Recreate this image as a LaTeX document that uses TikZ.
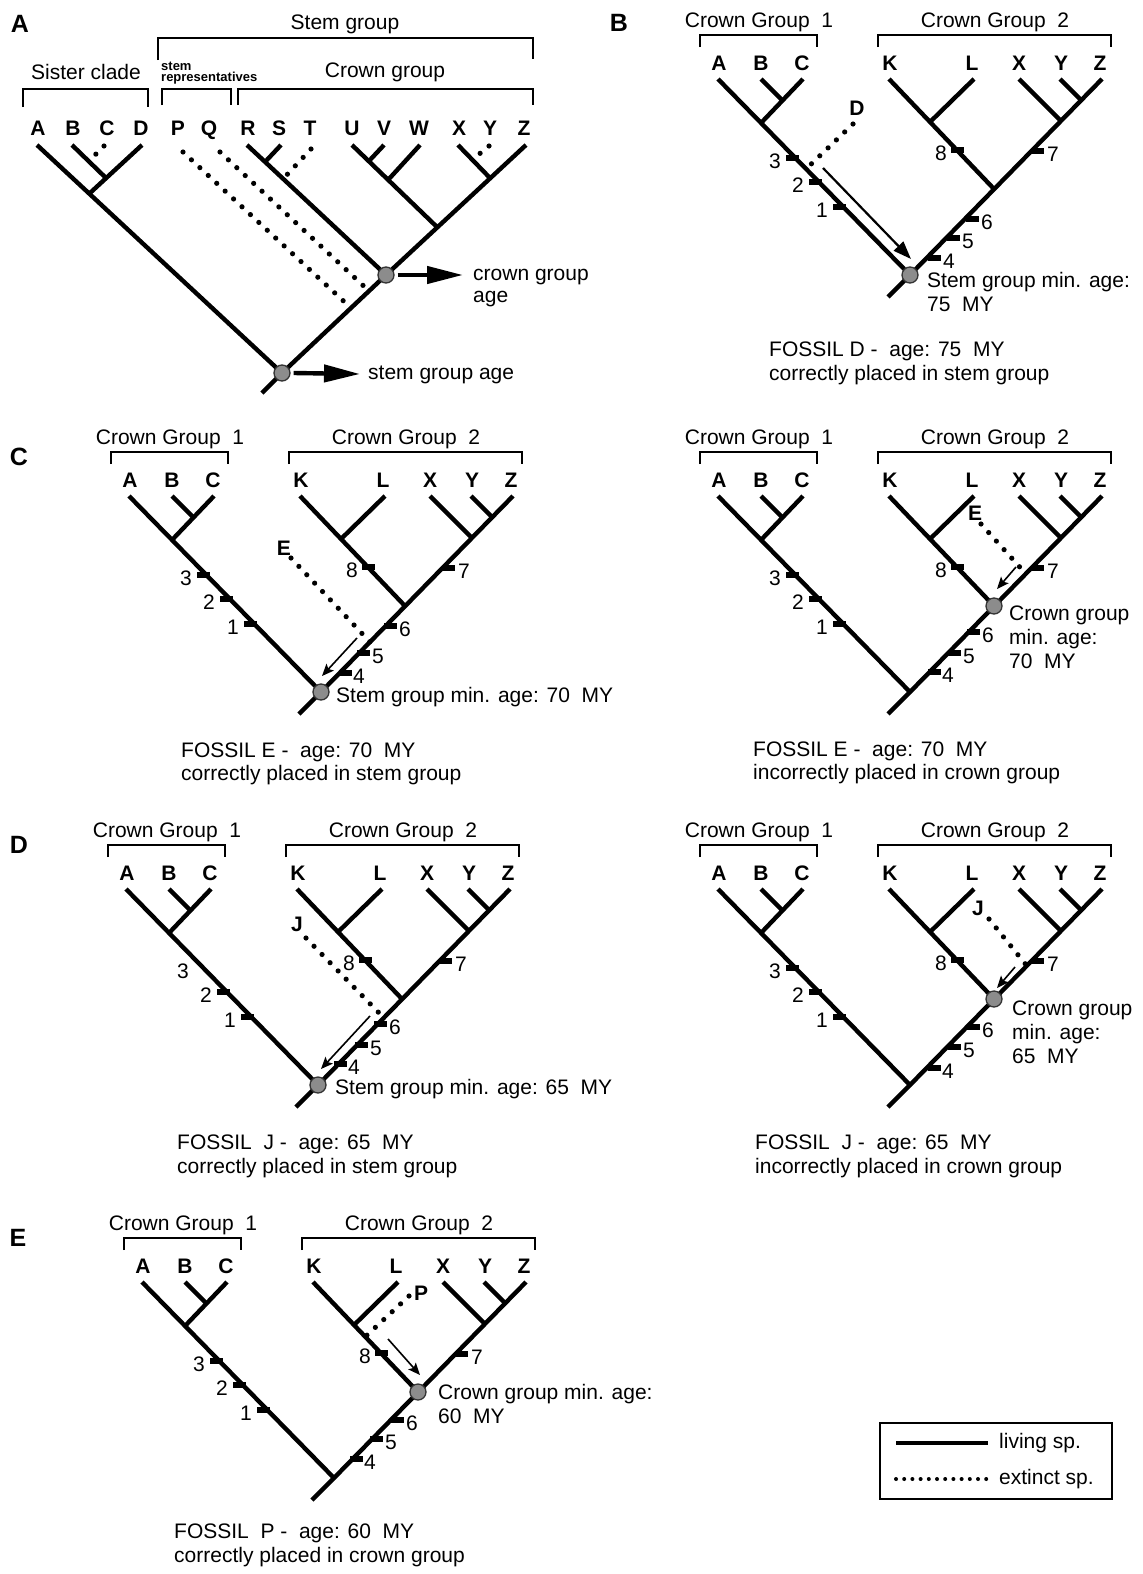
\documentclass[tikz,border=0pt]{standalone}
\usepackage{fontspec}
\setmainfont{Liberation Sans}
\usetikzlibrary{arrows.meta}

\definecolor{agegrey}{RGB}{140,140,140}

\tikzset{
  branch/.style={line width=4.4pt, line cap=butt, line join=round},
  extinct/.style={line width=5.2pt, line cap=round, dash pattern=on 0pt off 11.5pt},
  bracket/.style={line width=1.7pt},
  agedot/.style={circle, fill=agegrey, draw=black!80, line width=1.3pt, minimum size=16pt, inner sep=0pt},
  tickmark/.style={fill=black, minimum width=13pt, minimum height=6pt, inner sep=0pt},
  txt/.style={font=\fontsize{21}{24}\selectfont, inner sep=0pt},
  ltxt/.style={txt, anchor=west, text height=15pt, text depth=4.5pt},
  tiplabel/.style={font=\fontsize{21}{24}\selectfont\bfseries, inner sep=0pt, text height=15pt, text depth=0pt},
  numlabel/.style={font=\fontsize{21}{24}\selectfont, inner sep=0pt, text height=15pt, text depth=0pt},
  panel/.style={font=\fontsize{25}{28}\selectfont\bfseries, inner sep=0pt},
  replbl/.style={font=\fontsize{13}{14}\selectfont\bfseries, inner sep=0pt, anchor=west},
  bigarrow/.style={line width=4.4pt, -{Triangle[length=36pt,width=17pt]}},
  midarrow/.style={line width=2.2pt, -{Triangle[length=18pt,width=13pt]}},
  thinarrow/.style={line width=1.6pt, -{Stealth[length=12pt,width=10pt,inset=2.5pt]}},
}

% common two-crown-group tree, drawn around its root at the origin
\newcommand{\cgtree}[1]{%
  \coordinate (#1root) at (0,0);
  \coordinate (#1base) at (-22,22);
  \coordinate (#1At) at (-192,-196);
  \coordinate (#1ABC) at (-149,-152);
  \coordinate (#1Ct) at (-107,-196);
  \coordinate (#1Bt) at (-149,-196);
  \coordinate (#1BC) at (-127,-174);
  \coordinate (#1Zt) at (192,-196);
  \coordinate (#1crown) at (84,-86);
  \coordinate (#1Kt) at (-21,-196);
  \coordinate (#1KL) at (20,-153);
  \coordinate (#1Lt) at (64,-196);
  \coordinate (#1XZ) at (151,-154);
  \coordinate (#1Xt) at (109,-196);
  \coordinate (#1YZ) at (171,-175);
  \coordinate (#1Yt) at (150,-196);
  \draw[branch] (#1base) -- (#1root) -- (#1At);
  \draw[branch] (#1root) -- (#1Zt);
  \draw[branch] (#1ABC) -- (#1Ct);
  \draw[branch] (#1Bt) -- (#1BC);
  \draw[branch] (#1crown) -- (#1Kt);
  \draw[branch] (#1KL) -- (#1Lt);
  \draw[branch] (#1XZ) -- (#1Xt);
  \draw[branch] (#1YZ) -- (#1Yt);
  \foreach \tl/\tx in {A/-191,B/-149,C/-108,K/-20,L/62,X/109,Y/151,Z/190}
    \node[tiplabel] (#1l\tl) at (\tx,-212) {\tl};
  \draw[bracket] (-210,-228) -- (-210,-240) -- (-93,-240) -- (-93,-228);
  \draw[bracket] (-32,-228) -- (-32,-240) -- (201,-240) -- (201,-228);
  \node[txt] (#1cg1) at (-151,-253) {Crown Group~~1};
  \node[txt] (#1cg2) at (85,-253) {Crown Group~~2};
}

% character tick with its number
\newcommand{\tk}[5]{%
  \node[tickmark] (#1) at (#2,#3) {};
  \node[numlabel] (#1n) at (#2+#4,#3+3) {#5};
}

\begin{document}
\begin{tikzpicture}[x=1pt,y=-1pt]
\useasboundingbox (0,0) rectangle (1143,1574);

% ================= Panel A =================
\node[panel] (pA) at (20,24) {A};
\node[txt] (stemlbl) at (345,24) {Stem group};
\draw[bracket] (158,60) -- (158,38) -- (533,38) -- (533,59);
\node[txt] (sislbl) at (86,72) {Sister clade};
\draw[bracket] (23,107) -- (23,89) -- (148,89) -- (148,107);
\node[replbl] (replbl1) at (161,66) {stem};
\node[replbl] (replbl2) at (161,78) {representatives};
\draw[bracket] (162,105) -- (162,89) -- (231,89) -- (231,105);
\node[txt] (crlbl) at (385,72) {Crown group};
\draw[bracket] (238,105) -- (238,89) -- (533,89) -- (533,105);

\foreach \tl/\tx in {A/38,B/73,C/107,D/141,P/178,Q/209,R/248,S/279,T/310,U/352,V/384,W/419,X/459,Y/490,Z/524}
  \node[tiplabel] (al\tl) at (\tx,128) {\tl};

\coordinate (aN0) at (282,373);
\coordinate (aBase) at (262,393);
\coordinate (aAt) at (37,145);
\coordinate (aSis) at (90,193);
\coordinate (aDt) at (142,145);
\coordinate (aBt) at (72,145);
\coordinate (aBD) at (106,178);
\coordinate (aCt) at (104,146);
\coordinate (aCj) at (89,161);
\coordinate (aN1) at (386,275);
\coordinate (aZt) at (526,145);
\coordinate (aRt) at (247,145);
\coordinate (aSt) at (281,145);
\coordinate (aSj) at (265,162);
\coordinate (aTt) at (311,149);
\coordinate (aTj) at (283,179);
\coordinate (aUt) at (352,145);
\coordinate (aUj) at (437,227);
\coordinate (aVt) at (384,145);
\coordinate (aVj) at (369,161);
\coordinate (aWt) at (420,145);
\coordinate (aWj) at (388,180);
\coordinate (aXt) at (458,145);
\coordinate (aXj) at (490,178);
\coordinate (aYt) at (489,146);
\coordinate (aYj) at (472,160);
\coordinate (aPt) at (183,152);
\coordinate (aPe) at (351,308);
\coordinate (aQt) at (220,152);
\coordinate (aQe) at (369,291);

\draw[branch] (aBase) -- (aN0) -- (aAt);
\draw[branch] (aN0) -- (aN1) -- (aZt);
\draw[branch] (aSis) -- (aDt);
\draw[branch] (aBt) -- (aBD);
\draw[branch] (aN1) -- (aRt);
\draw[branch] (aSj) -- (aSt);
\draw[branch] (aUj) -- (aUt);
\draw[branch] (aVj) -- (aVt);
\draw[branch] (aWj) -- (aWt);
\draw[branch] (aXj) -- (aXt);
\draw[extinct] (aCt) -- (aCj);
\draw[extinct] (aTt) -- (aTj);
\draw[extinct] (aYt) -- (aYj);
\draw[extinct] (aPt) -- (aPe);
\draw[extinct] (aQt) -- (aQe);

\node[agedot] (aStemDot) at (aN0) {};
\node[agedot] (aCrownDot) at (aN1) {};
\coordinate (aCrownTip) at (463,275);
\coordinate (aStemTip) at (360,374);
\draw[bigarrow] ([xshift=3pt]aCrownDot.east) -- (aCrownTip);
\draw[bigarrow] ([xshift=3pt]aStemDot.east) -- (aStemTip);
\node[ltxt] (aCrownTxt1) at (473,275) {crown group};
\node[ltxt] (aCrownTxt2) at (473,297) {age};
\node[ltxt] (aStemTxt) at (368,374) {stem group age};

% ================= Panel B =================
\node[panel] (pB) at (619,23) {B};
\begin{scope}[shift={(910,275)}]
  \cgtree{b}
  \tk{b3}{-118}{-117}{-17}{3}
  \tk{b2}{-95}{-93}{-17}{2}
  \tk{b1}{-71}{-68}{-17}{1}
  \tk{b8}{47}{-125}{-16}{8}
  \tk{b7}{127}{-124}{16}{7}
  \tk{b6}{62}{-56}{15}{6}
  \tk{b5}{43}{-37}{15}{5}
  \tk{b4}{24}{-17}{15}{4}
\end{scope}
\coordinate (bDt) at (853,124);
\coordinate (bDj) at (806,169);
\draw[extinct] (bDt) -- (bDj);
\node[tiplabel] (bDl) at (857,108) {D};
\coordinate (bArrS) at (823,168);
\coordinate (bArrE) at (911,259);
\draw[midarrow] (bArrS) -- (bArrE);
\node[agedot] (bMin) at (broot) {};
\node[ltxt] (bTxt1) at (927,282) {Stem group min. age:};
\node[ltxt] (bTxt2) at (927,306) {75~~MY};
\node[ltxt] (bF1) at (769,351) {FOSSIL D -~~age: 75~~MY};
\node[ltxt] (bF2) at (769,375) {correctly placed in stem group};

% ================= Panel C, left =================
\node[panel] (pC) at (19,457) {C};
\begin{scope}[shift={(321,692)}]
  \cgtree{c}
  \tk{c3}{-118}{-117}{-17}{3}
  \tk{c2}{-95}{-93}{-17}{2}
  \tk{c1}{-71}{-68}{-17}{1}
  \tk{c8}{47}{-125}{-16}{8}
  \tk{c7}{127}{-124}{16}{7}
  \tk{c6}{69}{-66}{15}{6}
  \tk{c5}{42}{-39}{15}{5}
  \tk{c4}{24}{-19}{14}{4}
\end{scope}
\coordinate (cEt) at (291,558);
\coordinate (cEj) at (370,642);
\draw[extinct] (cEt) -- (cEj);
\node[tiplabel] (cEl) at (284,548) {E};
\coordinate (cArrS) at (357,638);
\coordinate (cArrE) at (322,676);
\draw[thinarrow] (cArrS) -- (cArrE);
\node[agedot] (cMin) at (croot) {};
\node[ltxt] (cTxt1) at (336,697) {Stem group min. age: 70~~MY};
\node[ltxt] (cF1) at (181,752) {FOSSIL E -~~age: 70~~MY};
\node[ltxt] (cF2) at (181,775) {correctly placed in stem group};

% ================= Panel C, right =================
\begin{scope}[shift={(910,692)}]
  \cgtree{d}
  \tk{d3}{-118}{-117}{-17}{3}
  \tk{d2}{-95}{-93}{-17}{2}
  \tk{d1}{-71}{-68}{-17}{1}
  \tk{d8}{47}{-125}{-16}{8}
  \tk{d7}{127}{-124}{16}{7}
  \tk{d6}{63}{-60}{15}{6}
  \tk{d5}{44}{-39}{15}{5}
  \tk{d4}{24}{-20}{14}{4}
\end{scope}
\coordinate (dEt) at (981,524);
\coordinate (dEj) at (1026,574);
\draw[extinct] (dEt) -- (dEj);
\node[tiplabel] (dEl) at (975,513) {E};
\coordinate (dArrS) at (1016,567);
\coordinate (dArrE) at (997,589);
\draw[thinarrow] (dArrS) -- (dArrE);
\node[agedot] (dMin) at (dcrown) {};
\node[ltxt] (dTxt1) at (1009,615) {Crown group};
\node[ltxt] (dTxt2) at (1009,639) {min. age:};
\node[ltxt] (dTxt3) at (1009,663) {70~~MY};
\node[ltxt] (dF1) at (753,751) {FOSSIL E -~~age: 70~~MY};
\node[ltxt] (dF2) at (753,774) {incorrectly placed in crown group};

% ================= Panel D, left =================
\node[panel] (pD) at (19,845) {D};
\begin{scope}[shift={(318,1085)}]
  \cgtree{e}
  \node[numlabel] (e3n) at (-135,-114) {3};
  \tk{e2}{-95}{-93}{-17}{2}
  \tk{e1}{-71}{-68}{-17}{1}
  \tk{e8}{47}{-125}{-16}{8}
  \tk{e7}{127}{-124}{16}{7}
  \tk{e6}{62}{-61}{15}{6}
  \tk{e5}{43}{-40}{15}{5}
  \tk{e4}{22}{-21}{14}{4}
\end{scope}
\coordinate (eJt) at (306,938);
\coordinate (eJj) at (384,1018);
\draw[extinct] (eJt) -- (eJj);
\node[tiplabel] (eJl) at (297,924) {J};
\coordinate (eArrS) at (370,1016);
\coordinate (eArrE) at (321,1069);
\draw[thinarrow] (eArrS) -- (eArrE);
\node[agedot] (eMin) at (eroot) {};
\node[ltxt] (eTxt1) at (335,1089) {Stem group min. age: 65~~MY};
\node[ltxt] (eF1) at (177,1144) {FOSSIL~~J -~~age: 65~~MY};
\node[ltxt] (eF2) at (177,1168) {correctly placed in stem group};

% ================= Panel D, right =================
\begin{scope}[shift={(910,1085)}]
  \cgtree{f}
  \tk{f3}{-118}{-117}{-17}{3}
  \tk{f2}{-95}{-93}{-17}{2}
  \tk{f1}{-71}{-68}{-17}{1}
  \tk{f8}{47}{-125}{-16}{8}
  \tk{f7}{127}{-124}{16}{7}
  \tk{f6}{63}{-58}{15}{6}
  \tk{f5}{44}{-38}{15}{5}
  \tk{f4}{24}{-17}{14}{4}
\end{scope}
\coordinate (fJt) at (989,919);
\coordinate (fJj) at (1027,966);
\draw[extinct] (fJt) -- (fJj);
\node[tiplabel] (fJl) at (978,908) {J};
\coordinate (fArrS) at (1015,967);
\coordinate (fArrE) at (997,988);
\draw[thinarrow] (fArrS) -- (fArrE);
\node[agedot] (fMin) at (fcrown) {};
\node[ltxt] (fTxt1) at (1012,1010) {Crown group};
\node[ltxt] (fTxt2) at (1012,1034) {min. age:};
\node[ltxt] (fTxt3) at (1012,1058) {65~~MY};
\node[ltxt] (fF1) at (755,1144) {FOSSIL~~J -~~age: 65~~MY};
\node[ltxt] (fF2) at (755,1168) {incorrectly placed in crown group};

% ================= Panel E =================
\node[panel] (pE) at (18,1238) {E};
\begin{scope}[shift={(334,1478)}]
  \cgtree{g}
  \tk{g3}{-118}{-117}{-17}{3}
  \tk{g2}{-95}{-93}{-17}{2}
  \tk{g1}{-71}{-68}{-17}{1}
  \tk{g8}{47}{-125}{-16}{8}
  \tk{g7}{127}{-124}{16}{7}
  \tk{g6}{63}{-58}{15}{6}
  \tk{g5}{42}{-39}{15}{5}
  \tk{g4}{22}{-19}{14}{4}
\end{scope}
\coordinate (gPt) at (409,1296);
\coordinate (gPj) at (365,1337);
\draw[extinct] (gPt) -- (gPj);
\node[tiplabel] (gPl) at (421,1293) {P};
\coordinate (gArrS) at (388,1339);
\coordinate (gArrE) at (420,1375);
\draw[thinarrow] (gArrS) -- (gArrE);
\node[agedot] (gMin) at (gcrown) {};
\node[ltxt] (gTxt1) at (438,1394) {Crown group min. age:};
\node[ltxt] (gTxt2) at (438,1418) {60~~MY};
\node[ltxt] (gF1) at (174,1533) {FOSSIL~~P -~~age: 60~~MY};
\node[ltxt] (gF2) at (174,1557) {correctly placed in crown group};

% ================= Legend =================
\node[draw, line width=2.4pt, minimum width=232pt, minimum height=76pt, inner sep=0pt] (legend) at (996,1461) {};
\coordinate (lgS1) at (896,1443);
\coordinate (lgE1) at (988,1443);
\draw[line width=4.5pt] (lgS1) -- (lgE1);
\node[ltxt] (lgT1) at (999,1443) {living sp.};
\coordinate (lgS2) at (896,1479);
\coordinate (lgE2) at (987,1479);
\draw[line width=4pt, line cap=round, dash pattern=on 0pt off 8.2pt] (lgS2) -- (lgE2);
\node[ltxt] (lgT2) at (999,1479) {extinct sp.};

\end{tikzpicture}
\end{document}
